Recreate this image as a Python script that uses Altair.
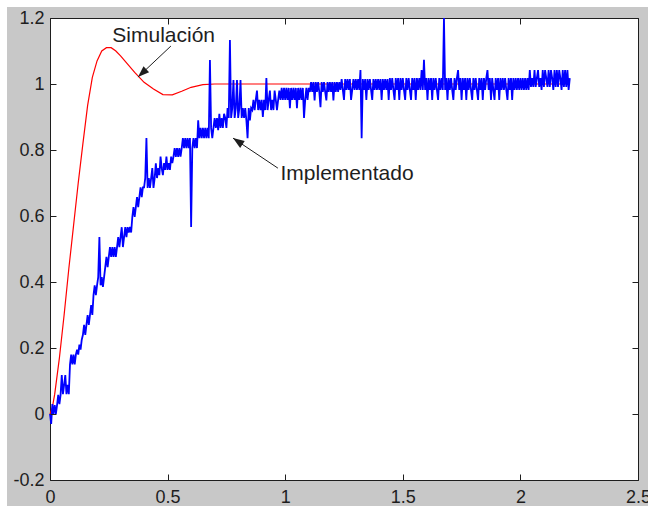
import altair as alt
import pandas as pd

# ---------------- data ----------------
# Simulación (red)
red_t = [0, 0.01, 0.02, 0.04, 0.06, 0.08, 0.10, 0.12, 0.14, 0.16, 0.18, 0.20, 0.22, 0.24,
         0.26, 0.28, 0.30, 0.33, 0.36, 0.40, 0.44, 0.48, 0.52, 0.56, 0.60, 0.65, 0.70,
         0.80, 1.00, 1.50, 2.20]
red_y = [0, 0.02, 0.06, 0.17, 0.30, 0.44, 0.57, 0.70, 0.82, 0.935, 1.02, 1.07, 1.10, 1.11,
         1.11, 1.10, 1.085, 1.06, 1.035, 1.005, 0.985, 0.968, 0.967, 0.978, 0.99, 0.998, 1.0,
         1.0, 1.0, 1.0, 1.0]

# Implementado (blue), one sample every 0.005 s
blue_step = 0.005
blue_y_a = [  # 0.000 - 0.495
    0.0, -0.03, 0.03, 0.0, 0.027, 0.0, 0.027, 0.058, 0.03, 0.058,
    0.118, 0.06, 0.088, 0.118, 0.06, 0.088, 0.06, 0.15, 0.18, 0.15,
    0.18, 0.15, 0.18, 0.195, 0.18, 0.21, 0.195, 0.225, 0.24, 0.27,
    0.24, 0.27, 0.30, 0.27, 0.30, 0.33, 0.30, 0.36, 0.39, 0.36,
    0.39, 0.415, 0.536, 0.39, 0.415, 0.385, 0.415, 0.445, 0.476, 0.445,
    0.476, 0.506, 0.476, 0.506, 0.476, 0.506, 0.476, 0.506, 0.536, 0.506,
    0.536, 0.566, 0.506, 0.536, 0.566, 0.536, 0.566, 0.55, 0.567, 0.55,
    0.597, 0.627, 0.597, 0.627, 0.657, 0.627, 0.657, 0.687, 0.657, 0.687,
    0.687, 0.715, 0.836, 0.685, 0.715, 0.685, 0.715, 0.745, 0.685, 0.715,
    0.76, 0.715, 0.745, 0.724, 0.78, 0.745, 0.724, 0.76, 0.74, 0.78,
]
blue_y_b = [  # 0.500 - 0.995
    0.74, 0.76, 0.74, 0.78, 0.76, 0.78, 0.806, 0.779, 0.806, 0.779,
    0.806, 0.78, 0.806, 0.836, 0.806, 0.836, 0.806, 0.836, 0.806, 0.836,
    0.567, 0.806, 0.836, 0.806, 0.836, 0.806, 0.89, 0.836, 0.867, 0.836,
    0.867, 0.836, 0.867, 0.836, 0.867, 0.836, 1.073, 0.867, 0.836, 0.867,
    0.897, 0.867, 0.897, 0.86, 0.91, 0.867, 0.897, 0.867, 0.91, 0.897,
    0.867, 0.927, 0.897, 1.133, 0.897, 0.927, 1.012, 0.897, 0.927, 1.012,
    0.897, 0.927, 1.012, 0.897, 0.927, 0.897, 0.927, 0.89, 0.836, 0.927,
    0.89, 0.927, 0.921, 0.952, 0.921, 0.952, 0.98, 0.921, 0.952, 0.921,
    0.952, 0.9, 0.952, 0.921, 1.018, 0.921, 0.952, 0.98, 0.921, 0.952,
    0.921, 0.98, 0.952, 0.921, 0.952, 0.98, 0.952, 0.988, 0.952, 0.988,
]
blue_y_c = [  # 1.000 - 1.495
    0.952, 0.988, 0.952, 0.988, 0.927, 0.988, 0.952, 0.988, 0.952, 0.988,
    0.927, 0.988, 0.952, 0.988, 0.952, 0.988, 0.897, 0.952, 0.988, 0.952,
    0.988, 0.976, 1.006, 0.976, 1.006, 0.95, 1.006, 0.976, 1.006, 0.976,
    0.93, 1.006, 0.976, 1.006, 0.976, 0.95, 1.006, 0.976, 1.006, 0.976,
    1.006, 0.95, 1.006, 0.976, 1.006, 0.976, 1.006, 0.982, 1.015, 0.982,
    0.952, 1.015, 0.982, 1.015, 0.982, 1.015, 0.952, 0.982, 1.015, 0.982,
    1.015, 0.982, 1.015, 0.982, 1.042, 0.836, 1.015, 0.982, 1.015, 0.952,
    1.015, 0.982, 1.015, 0.982, 0.952, 1.015, 0.982, 1.015, 0.982, 1.015,
    0.982, 1.015, 0.952, 1.015, 0.982, 1.015, 0.982, 1.015, 0.952, 1.018,
    0.982, 1.018, 0.982, 0.952, 1.018, 0.982, 1.018, 0.952, 1.018, 0.982,
]
blue_y_d = [  # 1.500 - 1.995
    1.018, 0.982, 0.952, 1.018, 0.982, 1.018, 0.982, 0.952, 1.018, 0.982,
    1.018, 0.952, 1.018, 0.982, 1.018, 0.982, 1.042, 0.982, 1.073, 0.982,
    1.018, 0.952, 1.018, 0.982, 1.018, 0.952, 1.018, 0.982, 1.018, 0.982,
    0.952, 1.018, 0.982, 1.018, 0.982, 1.2, 0.982, 1.018, 0.952, 1.018,
    0.982, 1.018, 0.982, 0.952, 1.018, 0.982, 1.018, 1.042, 0.982, 1.018,
    0.952, 1.018, 0.982, 1.018, 0.952, 1.018, 0.982, 1.018, 0.982, 0.952,
    1.018, 0.982, 1.018, 0.982, 0.952, 1.018, 0.982, 1.018, 0.952, 1.018,
    0.982, 1.018, 1.042, 0.982, 1.018, 0.952, 1.018, 0.982, 0.952, 1.018,
    0.982, 1.018, 0.952, 1.018, 0.982, 1.018, 0.982, 1.018, 0.982, 0.952,
    1.018, 0.982, 1.018, 0.952, 1.018, 0.982, 1.018, 0.982, 1.018, 0.982,
]
blue_y_e = [  # 2.000 - 2.210
    1.018, 0.982, 1.018, 0.982, 1.018, 0.982, 1.018, 0.982, 1.042, 0.991,
    1.018, 0.991, 1.042, 0.991, 1.018, 1.042, 0.991, 1.018, 0.982, 1.042,
    0.991, 1.042, 1.018, 0.991, 1.042, 0.991, 1.042, 1.018, 0.982, 1.042,
    0.991, 1.042, 0.991, 1.042, 1.018, 0.982, 1.042, 0.991, 1.042, 0.991,
    1.042, 0.982, 1.018,
]
blue_y = blue_y_a + blue_y_b + blue_y_c + blue_y_d + blue_y_e
blue_t = [round(i * blue_step, 3) for i in range(len(blue_y))]

# annotations
label_text = ["Simulación", "Implementado"]
label_x = [0.265, 0.98]
label_y = [1.126, 0.709]
arrow_x0 = [0.514, 0.969]
arrow_y0 = [1.115, 0.745]
arrow_x1 = [0.374, 0.778]
arrow_y1 = [1.021, 0.836]
arrow_angle = [227, 304]

x_ticks = [0, 0.5, 1, 1.5, 2, 2.5]
y_ticks = [-0.2, 0, 0.2, 0.4, 0.6, 0.8, 1, 1.2]

# ---------------- chart ----------------
W, H = 588, 462
GRAY = "#c8c8c8"
INK = "#1e1e1e"
FONT = "Liberation Sans"

red_df = pd.DataFrame({"t": red_t, "y": red_y})
blue_df = pd.DataFrame({"t": blue_t, "y": blue_y})
lab_df = pd.DataFrame({"text": label_text, "x": label_x, "y": label_y})
arr_df = pd.DataFrame({"x0": arrow_x0, "y0": arrow_y0, "x1": arrow_x1,
                       "y1": arrow_y1, "angle": arrow_angle})
one_df = pd.DataFrame({"k": [0]})

xs = alt.Scale(domain=[0, 2.5], nice=False, zero=False)
ys = alt.Scale(domain=[-0.2, 1.2], nice=False, zero=False)


def label_axis(orient, pad, values):
    return alt.Axis(orient=orient, values=values, ticks=False, tickSize=0, domain=False,
                    grid=False, labelFont=FONT, labelFontSize=18, labelColor=INK,
                    labelPadding=pad, labelFlush=False, labelOverlap=False,
                    labelBound=False, labelExpr="'' + datum.value", title=None)


def tick_axis(orient, values):
    return alt.Axis(orient=orient, values=values, offset=-6, tickSize=6, ticks=True,
                    labels=False, domain=False, grid=False, tickColor=INK, tickWidth=1,
                    title=None, zindex=1)


top_strip = alt.Chart(one_df).mark_rect(color="white").encode(
    x=alt.value(-50), x2=alt.value(W + 10), y=alt.value(-18), y2=alt.value(-11))
left_strip = alt.Chart(one_df).mark_rect(color="white").encode(
    x=alt.value(-50), x2=alt.value(-43), y=alt.value(-18), y2=alt.value(H + 26))

red = alt.Chart(red_df).mark_line(color="#ff0000", strokeWidth=1.2).encode(
    x=alt.X("t:Q", scale=xs, axis=label_axis("bottom", 8, x_ticks)),
    y=alt.Y("y:Q", scale=ys, axis=label_axis("left", 6, y_ticks)),
)
blue = alt.Chart(blue_df).mark_line(color="#0000ff", strokeWidth=1.8).encode(
    x=alt.X("t:Q", scale=xs, axis=tick_axis("bottom", x_ticks)),
    y=alt.Y("y:Q", scale=ys, axis=tick_axis("left", y_ticks)),
)
rules = alt.Chart(arr_df).mark_rule(color=INK, strokeWidth=1).encode(
    x=alt.X("x0:Q", scale=xs, axis=None),
    y=alt.Y("y0:Q", scale=ys, axis=None),
    x2="x1:Q", y2="y1:Q",
)
heads = alt.Chart(arr_df).mark_point(
    shape="M0,0L0.36,1L-0.36,1Z", filled=True, opacity=1, size=520, color=INK,
    strokeWidth=0,
).encode(
    x=alt.X("x1:Q", scale=xs, axis=None),
    y=alt.Y("y1:Q", scale=ys, axis=None),
    angle=alt.Angle("angle:Q", scale=None),
)
texts = alt.Chart(lab_df).mark_text(
    align="left", baseline="alphabetic", font=FONT, fontSize=21, color=INK,
).encode(
    x=alt.X("x:Q", scale=xs, axis=tick_axis("top", x_ticks)),
    y=alt.Y("y:Q", scale=ys, axis=tick_axis("right", y_ticks)),
    text="text:N",
)

chart = (
    alt.layer(top_strip, left_strip, red, blue, rules, heads, texts)
    .resolve_axis(x="independent", y="independent")
    .properties(
        width=W, height=H,
        padding={"left": 50, "top": 18, "right": 10, "bottom": 26},
        autosize=alt.AutoSizeParams(type="none"),
        background=GRAY,
    )
    .configure_view(fill="white", stroke=INK, strokeWidth=1)
)

chart.save("out.html", embed_options={"renderer": "svg", "actions": False})
